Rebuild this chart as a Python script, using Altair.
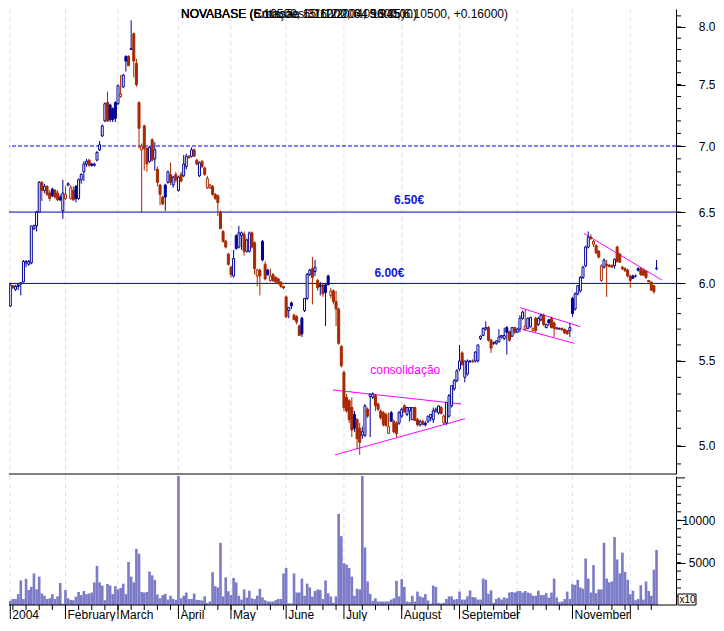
import altair as alt
import pandas as pd
import numpy as np

# ---------------- data ----------------
opens = [5.88, 5.96, 5.93, 5.85, 5.985, 5.96, 5.99, 5.995, 6.01, 6.14,
         6.13, 6.14, 6.38, 6.40, 6.50, 6.72, 6.66, 6.69, 6.64, 6.67,
         6.66, 6.64, 6.61, 6.51, 6.60, 6.70, 6.60, 6.66, 6.69, 6.60,
         6.74, 6.80, 6.86, 6.89, 6.86, 6.85, 6.89, 6.97, 7.08, 7.20,
         7.35, 7.33, 7.30, 7.35, 7.34, 7.40, 7.48, 7.74, 7.74, 7.80,
         7.94, 7.68, 7.35, 6.97, 7.16, 6.98, 6.88, 7.05, 6.90, 6.82,
         6.70, 6.61, 6.70, 6.72, 6.78, 6.70, 6.78, 6.66, 6.78, 6.77,
         6.84, 6.92, 6.92, 6.97, 6.89, 6.77, 6.88, 6.83, 6.68, 6.68,
         6.69, 6.63, 6.62, 6.50, 6.36, 6.29, 6.20, 6.11, 6.05, 6.33,
         6.25, 6.33, 6.34, 6.22, 6.22, 6.35, 6.28, 6.05, 6.09, 6.29,
         6.13, 6.09, 6.02, 6.06, 6.04, 6.03, 6.01, 5.98, 5.91, 5.82,
         5.87, 5.79, 5.78, 5.72, 5.77, 5.82, 5.90, 6.06, 6.10, 6.08,
         6.02, 5.99, 5.99, 5.99, 6.05, 5.92, 5.95, 5.88, 5.83, 5.59,
         5.43, 5.28, 5.26, 5.22, 5.18, 5.15, 5.10, 5.06, 5.06, 5.21,
         5.285, 5.28, 5.29, 5.24, 5.20, 5.19, 5.18, 5.07, 5.19, 5.14,
         5.13, 5.13, 5.17, 5.23, 5.18, 5.20, 5.15, 5.22, 5.15, 5.12,
         5.14, 5.13, 5.14, 5.16, 5.15, 5.20, 5.19, 5.22, 5.13, 5.13,
         5.17, 5.23, 5.33, 5.38, 5.45, 5.55, 5.40, 5.42, 5.495, 5.50,
         5.50, 5.50, 5.64, 5.66, 5.70, 5.71, 5.63, 5.61, 5.61, 5.62,
         5.65, 5.64, 5.71, 5.685, 5.655, 5.71, 5.68, 5.70, 5.77, 5.70,
         5.705, 5.715, 5.69, 5.77, 5.73, 5.76, 5.79, 5.71, 5.76, 5.77,
         5.74, 5.71, 5.70, 5.705, 5.70, 5.69, 5.69, 5.90, 5.83, 5.93,
         5.95, 6.04, 6.12, 6.25, 6.32, 6.27, 6.26, 6.22, 6.02, 6.11,
         6.13, 6.125, 6.12, 6.12, 6.25, 6.20, 6.11, 6.10, 6.09, 6.05,
         6.05, 6.05, 6.10, 6.10, 6.09, 6.08, 6.02, 6.01, 5.985, 6.10]

highs = [5.97, 5.985, 5.98, 6.00, 5.99, 5.99, 6.00, 6.01, 6.16, 6.16,
         6.16, 6.40, 6.41, 6.51, 6.73, 6.73, 6.71, 6.70, 6.66, 6.68,
         6.67, 6.66, 6.63, 6.74, 6.69, 6.72, 6.70, 6.69, 6.70, 6.75,
         6.79, 6.88, 6.90, 6.90, 6.87, 6.87, 6.96, 7.04, 7.17, 7.35,
         7.44, 7.34, 7.31, 7.36, 7.50, 7.58, 7.59, 7.75, 7.75, 8.06,
         7.95, 7.72, 7.36, 7.02, 7.17, 6.99, 7.00, 7.06, 7.03, 6.84,
         6.71, 6.62, 6.71, 6.81, 6.87, 6.77, 6.80, 6.77, 6.80, 6.93,
         6.94, 6.93, 6.99, 6.98, 6.90, 6.88, 6.89, 6.84, 6.77, 6.71,
         6.70, 6.64, 6.63, 6.51, 6.37, 6.30, 6.21, 6.12, 6.23, 6.34,
         6.40, 6.36, 6.36, 6.31, 6.36, 6.36, 6.29, 6.10, 6.10, 6.30,
         6.15, 6.10, 6.10, 6.07, 6.05, 6.04, 6.01, 5.98, 5.92, 5.84,
         5.88, 5.80, 5.79, 5.73, 5.78, 5.90, 6.07, 6.10, 6.18, 6.16,
         6.03, 6.01, 6.00, 6.00, 6.06, 5.97, 5.96, 5.95, 5.84, 5.60,
         5.44, 5.30, 5.27, 5.28, 5.20, 5.16, 5.13, 5.11, 5.24, 5.22,
         5.30, 5.31, 5.30, 5.25, 5.21, 5.20, 5.19, 5.19, 5.20, 5.15,
         5.14, 5.20, 5.22, 5.24, 5.22, 5.22, 5.22, 5.225, 5.16, 5.15,
         5.15, 5.14, 5.17, 5.18, 5.22, 5.22, 5.23, 5.23, 5.18, 5.25,
         5.30, 5.35, 5.39, 5.45, 5.60, 5.56, 5.50, 5.51, 5.505, 5.51,
         5.56, 5.60, 5.66, 5.71, 5.75, 5.72, 5.64, 5.62, 5.63, 5.70,
         5.66, 5.71, 5.72, 5.69, 5.71, 5.715, 5.71, 5.79, 5.82, 5.83,
         5.775, 5.78, 5.71, 5.78, 5.78, 5.80, 5.80, 5.735, 5.765, 5.78,
         5.75, 5.71, 5.71, 5.71, 5.70, 5.695, 5.74, 5.91, 5.94, 5.99,
         6.05, 6.12, 6.26, 6.36, 6.34, 6.30, 6.27, 6.23, 6.13, 6.17,
         6.16, 6.13, 6.13, 6.17, 6.26, 6.21, 6.12, 6.11, 6.10, 6.06,
         6.06, 6.06, 6.11, 6.11, 6.10, 6.09, 6.02, 6.01, 5.99, 6.16]

lows = [5.84, 5.95, 5.91, 5.845, 5.965, 5.95, 5.955, 5.92, 6.005, 6.11,
        6.12, 6.13, 6.37, 6.36, 6.50, 6.58, 6.64, 6.62, 6.58, 6.61,
        6.60, 6.58, 6.58, 6.45, 6.59, 6.69, 6.59, 6.58, 6.57, 6.59,
        6.71, 6.73, 6.84, 6.84, 6.84, 6.84, 6.88, 6.96, 7.07, 7.19,
        7.19, 7.19, 7.19, 7.19, 7.33, 7.39, 7.47, 7.61, 7.66, 7.80,
        7.56, 7.48, 6.98, 6.50, 6.81, 6.80, 6.87, 6.88, 6.81, 6.69,
        6.55, 6.55, 6.51, 6.71, 6.70, 6.68, 6.72, 6.65, 6.72, 6.76,
        6.82, 6.90, 6.91, 6.92, 6.85, 6.76, 6.83, 6.77, 6.67, 6.67,
        6.62, 6.59, 6.47, 6.38, 6.28, 6.24, 6.12, 6.04, 6.04, 6.23,
        6.24, 6.23, 6.19, 6.21, 6.21, 6.24, 6.06, 5.98, 5.92, 6.15,
        6.02, 6.05, 6.01, 6.01, 6.00, 5.99, 5.97, 5.96, 5.77, 5.77,
        5.83, 5.76, 5.73, 5.66, 5.65, 5.81, 5.89, 6.05, 5.86, 6.05,
        5.95, 5.92, 5.91, 5.72, 5.99, 5.90, 5.86, 5.72, 5.60, 5.46,
        5.20, 5.19, 5.13, 5.05, 5.08, 4.98, 4.95, 5.04, 5.05, 5.16,
        5.05, 5.27, 5.20, 5.20, 5.15, 5.11, 5.11, 5.07, 5.14, 5.07,
        5.05, 5.12, 5.16, 5.19, 5.17, 5.14, 5.15, 5.14, 5.11, 5.11,
        5.12, 5.11, 5.13, 5.14, 5.13, 5.19, 5.18, 5.18, 5.12, 5.12,
        5.16, 5.22, 5.32, 5.37, 5.44, 5.47, 5.37, 5.41, 5.49, 5.49,
        5.49, 5.49, 5.63, 5.655, 5.69, 5.62, 5.55, 5.60, 5.60, 5.615,
        5.64, 5.63, 5.54, 5.62, 5.65, 5.67, 5.675, 5.68, 5.76, 5.69,
        5.70, 5.71, 5.685, 5.68, 5.72, 5.75, 5.72, 5.705, 5.72, 5.705,
        5.65, 5.70, 5.70, 5.69, 5.67, 5.665, 5.65, 5.78, 5.82, 5.92,
        5.94, 6.03, 6.11, 6.24, 6.30, 6.25, 6.20, 6.17, 6.01, 6.10,
        5.91, 6.11, 6.11, 6.10, 6.14, 6.14, 6.09, 6.08, 6.04, 5.97,
        6.03, 6.04, 6.08, 6.05, 6.05, 6.03, 6.01, 5.95, 5.93, 6.09]

closes = [5.85, 5.98, 5.92, 5.99, 5.97, 5.98, 5.98, 6.005, 6.15, 6.15,
          6.15, 6.40, 6.40, 6.50, 6.72, 6.66, 6.69, 6.63, 6.60, 6.62,
          6.61, 6.59, 6.59, 6.64, 6.63, 6.71, 6.68, 6.59, 6.60, 6.74,
          6.78, 6.86, 6.88, 6.85, 6.85, 6.86, 6.95, 7.01, 7.16, 7.34,
          7.20, 7.21, 7.21, 7.22, 7.49, 7.42, 7.58, 7.70, 7.66, 7.81,
          7.70, 7.50, 7.14, 7.00, 6.98, 6.86, 6.99, 6.89, 6.97, 6.72,
          6.63, 6.56, 6.61, 6.80, 6.72, 6.76, 6.74, 6.76, 6.73, 6.86,
          6.92, 6.91, 6.97, 6.92, 6.86, 6.87, 6.84, 6.78, 6.75, 6.70,
          6.63, 6.60, 6.57, 6.38, 6.29, 6.25, 6.13, 6.06, 6.17, 6.24,
          6.35, 6.35, 6.22, 6.30, 6.35, 6.25, 6.10, 6.09, 6.05, 6.16,
          6.03, 6.06, 6.05, 6.02, 6.01, 6.00, 5.98, 5.97, 5.78, 5.84,
          5.85, 5.76, 5.745, 5.66, 5.67, 5.90, 6.06, 6.09, 6.04, 6.11,
          5.97, 5.98, 5.93, 5.94, 5.99, 5.95, 5.88, 5.83, 5.61, 5.47,
          5.22, 5.20, 5.15, 5.09, 5.10, 5.04, 5.02, 5.08, 5.23, 5.17,
          5.30, 5.30, 5.23, 5.21, 5.16, 5.12, 5.115, 5.11, 5.14, 5.08,
          5.07, 5.19, 5.21, 5.195, 5.22, 5.22, 5.22, 5.145, 5.12, 5.14,
          5.12, 5.12, 5.17, 5.18, 5.20, 5.21, 5.23, 5.185, 5.17, 5.25,
          5.29, 5.35, 5.38, 5.44, 5.50, 5.48, 5.50, 5.50, 5.50, 5.495,
          5.555, 5.60, 5.655, 5.705, 5.71, 5.63, 5.58, 5.615, 5.625, 5.65,
          5.66, 5.66, 5.68, 5.63, 5.71, 5.68, 5.70, 5.77, 5.81, 5.72,
          5.77, 5.775, 5.705, 5.69, 5.77, 5.79, 5.73, 5.73, 5.74, 5.71,
          5.705, 5.70, 5.705, 5.695, 5.675, 5.67, 5.71, 5.80, 5.93, 5.985,
          6.04, 6.11, 6.25, 6.32, 6.31, 6.29, 6.21, 6.18, 6.12, 6.16,
          6.12, 6.115, 6.11, 6.165, 6.15, 6.145, 6.10, 6.085, 6.05, 6.02,
          6.035, 6.05, 6.09, 6.06, 6.055, 6.04, 6.01, 5.955, 5.945, 6.105]

volumes = [3600, 9250, 640, 500, 700, 700, 1280, 2900, 700, 3080,
           1770, 2140, 3720, 1840, 3350, 1350, 1090, 710, 790, 1280,
           710, 1020, 2600, 150, 1770, 790, 600, 560, 980, 1540,
           1170, 1650, 1280, 1350, 1470, 2670, 4620, 2670, 2290, 560,
           2480, 2290, 1280, 2220, 1840, 2000, 2520, 1280, 5080, 3350,
           2670, 6620, 6050, 1540, 1470, 1540, 3950, 3500, 2970, 1240,
           790, 1170, 1320, 640, 1090, 710, 600, 18000, 790, 1090,
           1470, 710, 710, 1350, 600, 600, 530, 1020, 230, 410,
           3870, 2220, 2070, 7330, 1020, 3270, 1620, 1170, 3200, 2670,
           1090, 640, 1840, 870, 1690, 790, 710, 1090, 1920, 900,
           560, 410, 410, 410, 560, 710, 710, 3720, 4360, 190,
           190, 3720, 1470, 1470, 3120, 1090, 2520, 2070, 980, 1650,
           1840, 1770, 710, 2900, 1390, 1020, 260, 1020, 10750, 8120,
           4930, 4780, 4360, 3350, 1090, 1920, 1840,
           17000, 6800, 2780, 1320, 490, 790, 410, 410, 410, 410,
           410, 640, 790, 2860, 1020, 3050, 2140, 410, 340, 1090,
           410, 1580, 1020, 900, 1280, 530, 150, 2290, 2140, 260,
           190, 260, 710, 1020, 1020, 640, 710, 1580, 640, 640,
           1020, 1730, 940, 900, 640, 640, 3120, 2970, 1320, 1730,
           260, 710, 870, 640, 900, 790, 1470, 1540, 1470, 1620,
           1650, 1470, 1650, 1470, 1390, 1090, 1090, 1690, 1170, 1170,
           1390, 870, 1470, 3120, 900, 340, 410, 710, 1580, 710,
           2440, 2370, 2970, 2070, 1920, 5490, 3120, 1470, 4700, 1390,
           1840, 1840, 7330, 3120, 2670, 2780, 8010, 5380, 3720, 6170,
           3910, 2970, 1280, 1690, 560, 710, 2330, 640, 2780, 1650,
           1090, 4170, 6500]

level_lines = [7.0, 6.5, 6.0]
trend_i1 = [122.8, 123.6, 194.1, 194.9, 218.3]
trend_p1 = [5.324, 4.95, 5.839, 5.699, 6.347]
trend_i2 = [171.6, 173.1, 216.9, 214.7, 248.1]
trend_p2 = [5.241, 5.155, 5.716, 5.61, 6.022]

level_labels = ["6.50€", "6.00€"]
level_label_i = [146.1, 138.6]
level_label_p = [6.59, 6.07]
note_text = ["consolidação"]
note_i = [137.0]
note_p = [5.446]

month_labels = ["2004", "February", "March", "April", "May", "June", "July",
                "August", "September", "", "November", ""]
price_ticks = [5.0, 5.5, 6.0, 6.5, 7.0, 7.5, 8.0]
vol_ticks = [5000, 10000]
titles = ["NOVABASE (6.10500, 6.16000, 6.09000, 6.10500, +0.16000)",
          "NOVABASE (Emissão 15/12/2004, 5.94500)",
          "NOVABASE (Cotações 31/12/2004 16:35)"]

# ---------------- trading calendar ----------------
dates = pd.bdate_range("2003-12-29", "2004-12-15")
dates = dates[~dates.isin(pd.to_datetime(["2004-01-01", "2004-04-09", "2004-04-12"]))]
idx = np.arange(len(dates)) - 3

UP = "#000099"
DN = "#A82800"
FONT = "Liberation Sans"

df = pd.DataFrame({"i": idx, "o": opens, "h": highs, "l": lows, "c": closes, "v": volumes})
prev = df["c"].shift(1).fillna(df["o"])
df["col"] = np.where(df["c"] >= prev, UP, DN)
df["fil"] = np.where(df["c"] >= df["o"], "white", df["col"])
df["x0"] = df["i"] - 0.38
df["x1"] = df["i"] + 0.38
df["va"] = df["i"] - 0.5
df["vb"] = df["i"] + 0.5
df["v0"] = 0

ser = pd.Series(idx, index=dates)
s04 = ser[ser.index.year == 2004]
ms = s04.groupby(s04.index.month).first()
months = pd.DataFrame({"i": ms.values, "t": month_labels})
mondays = pd.DataFrame({"i": idx[(dates.weekday == 0) & (idx >= 0)]})

W, HP, HV = 667, 465, 129
xs = alt.Scale(domain=[-0.495, 253.4], nice=False, zero=False)
ys = alt.Scale(type="log", domain=[4.845, 8.163], nice=False)
vs = alt.Scale(domain=[0, 15225], nice=False, clamp=True)

yax = alt.Axis(orient="right", values=price_ticks, format=".1f", tickSize=9, labelPadding=30,
               labelAlign="right", labelBaseline="middle", grid=False, title=None,
               domainColor="black", tickColor="black", labelColor="black", labelFont=FONT,
               labelFontSize=12, domainWidth=1, tickWidth=1, labelOverlap=False)
vax = alt.Axis(orient="right", values=vol_ticks, format="d", tickSize=9, labelPadding=30,
               labelAlign="right", labelBaseline="middle", grid=False, title=None,
               domainColor="black", tickColor="black", labelColor="black", labelFont=FONT,
               labelFontSize=12, domainWidth=1, tickWidth=1, labelOverlap=False)


def X(f):
    return alt.X(f, scale=xs, axis=None)


def Y(f):
    return alt.Y(f, scale=ys, axis=yax)


def V(f):
    return alt.Y(f, scale=vs, axis=vax)


one = pd.DataFrame({"k": [0]})
GRID = "#DCDCF6"

# ---------------- price panel ----------------
grid_p = alt.Chart(months).mark_rule(color=GRID, strokeDash=[4, 4]).encode(x=X("i:Q"))
l7 = alt.Chart(pd.DataFrame({"p": level_lines[:1]})).mark_rule(
    color="#0000FF", strokeDash=[4, 2]).encode(y=Y("p:Q"))
l65 = alt.Chart(pd.DataFrame({"p": level_lines[1:]})).mark_rule(color="#0000CC").encode(y=Y("p:Q"))
tr = alt.Chart(pd.DataFrame({"a": trend_i1, "pa": trend_p1, "b": trend_i2, "pb": trend_p2})).mark_rule(
    color="#FF00FF").encode(x=X("a:Q"), x2="b:Q", y=Y("pa:Q"), y2="pb:Q")
wick = alt.Chart(df).mark_rule(strokeWidth=1, clip=True).encode(
    x=X("i:Q"), y=Y("l:Q"), y2="h:Q", color=alt.Color("col:N", scale=None))
body = alt.Chart(df).mark_rect(strokeWidth=1, clip=True).encode(
    x=X("x0:Q"), x2="x1:Q", y=Y("o:Q"), y2="c:Q",
    fill=alt.Fill("fil:N", scale=None), stroke=alt.Stroke("col:N", scale=None))
lvl_txt = alt.Chart(pd.DataFrame({"i": level_label_i, "p": level_label_p, "t": level_labels})).mark_text(
    align="left", baseline="middle", font=FONT, fontSize=12, fontWeight="bold", color="#1414E6").encode(
    x=X("i:Q"), y=Y("p:Q"), text="t:N")
note = alt.Chart(pd.DataFrame({"i": note_i, "p": note_p, "t": note_text})).mark_text(
    align="left", baseline="middle", font=FONT, fontSize=12, color="#FF00FF").encode(
    x=X("i:Q"), y=Y("p:Q"), text="t:N")
minor_p = alt.Chart(pd.DataFrame({"p": np.round(np.arange(4.9, 8.15, 0.1), 1)})).mark_rule(
    color="black").encode(x=alt.value(W), x2=alt.value(W + 5), y=Y("p:Q"))
title = alt.Chart(pd.DataFrame({"t": titles})).mark_text(
    align="left", baseline="top", font=FONT, fontSize=12, color="black").encode(
    x=alt.value(172), y=alt.value(0), text="t:N")
divider = alt.Chart(one).mark_rule(color="black").encode(
    x=alt.value(0), x2=alt.value(W), y=alt.value(HP))

price = alt.layer(grid_p, l7, l65, tr, wick, body, lvl_txt, note, minor_p, title, divider).properties(
    width=W, height=HP)

# ---------------- volume panel ----------------
grid_v = alt.Chart(months).mark_rule(color=GRID, strokeDash=[4, 4]).encode(x=X("i:Q"))
bars = alt.Chart(df).mark_rect(color="#7B7BC8", clip=True).encode(
    x=X("va:Q"), x2="vb:Q", y=V("v0:Q"), y2="v:Q")
minor_v = alt.Chart(pd.DataFrame({"v": list(range(1000, 15000, 1000))})).mark_rule(color="black").encode(
    x=alt.value(W), x2=alt.value(W + 5), y=V("v:Q"))
major_v = alt.Chart(pd.DataFrame({"v": [15000]})).mark_rule(color="black").encode(
    x=alt.value(W), x2=alt.value(W + 9), y=V("v:Q"))
bottom = alt.Chart(one).mark_rule(color="black").encode(
    x=alt.value(0), x2=alt.value(W), y=alt.value(HV))
long_t = alt.Chart(months).mark_rule(color="black").encode(
    x=X("i:Q"), y=alt.value(HV), y2=alt.value(HV + 14))
short_t = alt.Chart(mondays).mark_rule(color="black").encode(
    x=X("i:Q"), y=alt.value(HV), y2=alt.value(HV + 5))
mlab = alt.Chart(months).mark_text(
    align="left", baseline="middle", dx=2, font=FONT, fontSize=12, color="black").encode(
    x=X("i:Q"), y=alt.value(HV + 10), text="t:N")
box = alt.Chart(one).mark_rect(fill="white", stroke="black", strokeWidth=1).encode(
    x=alt.value(669), x2=alt.value(687), y=alt.value(HV - 11), y2=alt.value(HV))
boxt = alt.Chart(pd.DataFrame({"t": ["x10"]})).mark_text(
    align="left", baseline="middle", font=FONT, fontSize=10, color="black").encode(
    x=alt.value(670.5), y=alt.value(HV - 5.5), text="t:N")

vol = alt.layer(grid_v, bars, minor_v, major_v, bottom, long_t, short_t, mlab, box, boxt).properties(
    width=W, height=HV)

chart = alt.vconcat(price, vol, spacing=0).properties(padding=0, background="white").configure_view(
    stroke=None)

chart.save("out.html", embed_options={"renderer": "svg", "actions": False})
